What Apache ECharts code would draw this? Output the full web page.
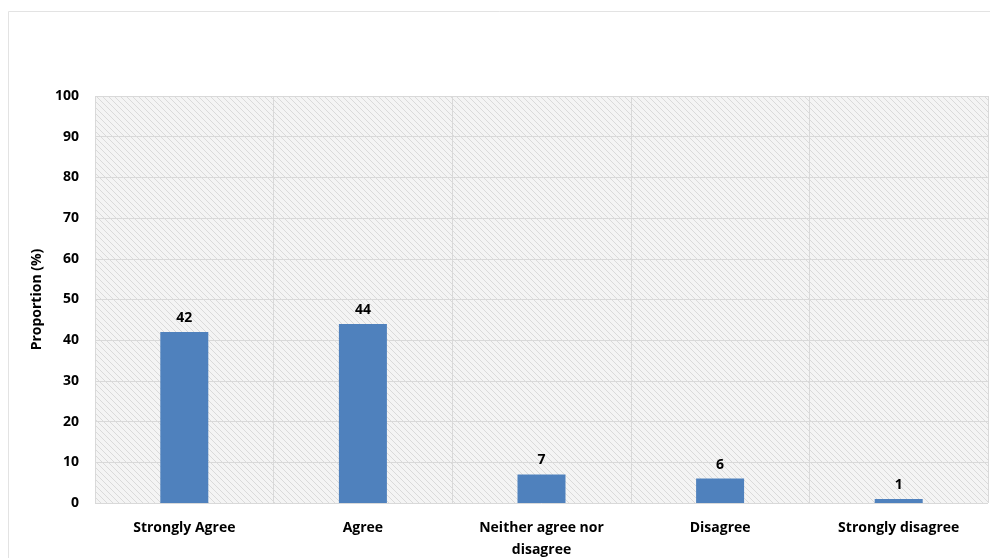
<!DOCTYPE html>
<html><head><meta charset="utf-8">
<script src="https://cdn.jsdelivr.net/npm/echarts@6/dist/echarts.min.js"></script>
<style>html,body{margin:0;padding:0;background:#fff}#c{width:990px;height:558px}</style>
</head><body><div id="c"></div>
<script>
var categories = ['Strongly Agree', 'Agree', 'Neither agree nor\ndisagree', 'Disagree', 'Strongly disagree'];
var values = [42, 44, 7, 6, 1];
var yTicks = [0, 10, 20, 30, 40, 50, 60, 70, 80, 90, 100];

var pc = document.createElement('canvas');
pc.width = 6; pc.height = 6;
var g = pc.getContext('2d');
g.fillStyle = '#f4f4f4'; g.fillRect(0, 0, 6, 6);
g.strokeStyle = '#dadada'; g.lineWidth = 1;
g.beginPath();
g.moveTo(0, 0); g.lineTo(6, 6);
g.moveTo(-3, 3); g.lineTo(3, 9);
g.moveTo(3, -3); g.lineTo(9, 3);
g.stroke();

var font = '"Open Sans", "DejaVu Sans", sans-serif';
var chart = echarts.init(document.getElementById('c'));
chart.setOption({
  animation: false,
  backgroundColor: '#fff',
  graphic: [{type: 'rect', shape: {x: 8.5, y: 11.5, width: 1000, height: 600}, style: {fill: 'none', stroke: '#e3e3e3', lineWidth: 1}, z: -1}],
  grid: {left: 95, right: 2, top: 96, bottom: 55, outerBoundsMode: 'none', containLabel: false, show: true, backgroundColor: {image: pc, repeat: 'repeat'}, borderWidth: 0},
  xAxis: {
    type: 'category', data: categories,
    axisLine: {show: false}, axisTick: {show: false},
    splitLine: {show: true, interval: 0, lineStyle: {color: '#d9d9d9', width: 1}},
    axisLabel: {interval: 0, color: '#000', fontWeight: 'bold', fontSize: 14, fontFamily: font, margin: 14, lineHeight: 22}
  },
  yAxis: {
    type: 'value', min: 0, max: 100, interval: 10,
    name: 'Proportion (%)', nameLocation: 'middle', nameGap: 50,
    nameTextStyle: {color: '#000', fontWeight: 'bold', fontSize: 14, fontFamily: font},
    axisLine: {show: false}, axisTick: {show: false},
    splitLine: {show: true, lineStyle: {color: '#d9d9d9', width: 1}},
    axisLabel: {color: '#000', fontWeight: 'bold', fontSize: 14, fontFamily: font, margin: 16,
      formatter: function (v) { return yTicks.indexOf(v) >= 0 ? String(v) : ''; }}
  },
  series: [{
    type: 'bar', data: values, barWidth: 48,
    itemStyle: {color: '#4F81BD'},
    label: {show: true, position: 'top', distance: 7, color: '#000', fontWeight: 'bold', fontSize: 14, fontFamily: font}
  }]
});
</script></body></html>
